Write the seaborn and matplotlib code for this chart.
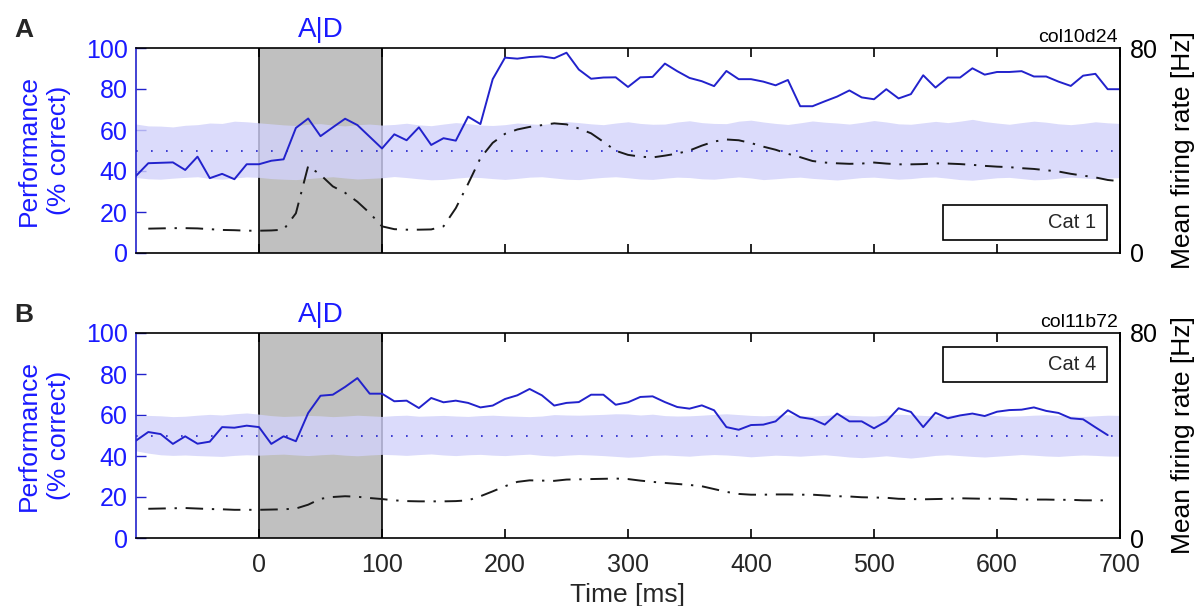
import numpy as np
import pandas as pd
import matplotlib
matplotlib.use("Agg")
import matplotlib.pyplot as plt
from matplotlib.patches import Rectangle
import matplotlib.transforms as mtransforms
import seaborn as sns

# ---------------- data ----------------
time_ms = list(range(-100, 701, 10))  # 81 bins

perf_top = [37.6, 43.8, 44.0, 44.2, 40.5, 47.0, 36.5, 38.6, 36.0, 43.3,
            43.3, 45.0, 45.7, 61.0, 65.6, 57.0, 61.3, 65.5, 62.4, 56.7,
            51.0, 57.9, 55.0, 61.3, 52.7, 56.0, 54.8, 66.5, 62.9, 84.8,
            95.3, 94.8, 95.6, 95.9, 95.0, 97.7, 89.5, 85.0, 85.6, 85.7,
            81.0, 85.7, 85.9, 92.4, 88.7, 85.4, 83.8, 81.4, 88.8, 84.8,
            84.8, 83.6, 81.8, 84.4, 71.6, 71.6, 74.0, 76.3, 79.3, 75.9,
            75.0, 79.9, 75.4, 77.5, 86.7, 80.7, 85.6, 85.6, 90.1, 87.0,
            88.3, 88.3, 88.7, 86.1, 86.1, 83.6, 81.5, 86.5, 87.4, 79.9,
            79.9]
rate_top = [np.nan, 9.5, 9.6, 9.7, 9.7, 9.6, 9.3, 9.0, 8.9, 8.7,
            8.7, 8.8, 9.1, 15.5, 34.0, 30.5, 26.0, 23.5, 20.0, 15.6,
            10.4, 9.3, 9.1, 9.1, 9.2, 10.4, 17.5, 27.0, 37.0, 43.0,
            46.5, 48.2, 49.2, 49.9, 50.6, 50.2, 48.6, 46.7, 43.4, 39.9,
            38.3, 37.6, 37.3, 38.0, 38.8, 40.0, 41.9, 43.5, 44.3, 44.0,
            42.9, 41.5, 40.3, 38.7, 37.4, 35.9, 35.3, 35.0, 34.8, 34.9,
            35.3, 34.9, 34.6, 34.6, 34.7, 35.0, 34.9, 34.7, 34.4, 34.0,
            33.7, 33.5, 33.1, 32.8, 32.3, 31.8, 30.9, 30.2, 29.5, 28.5,
            28.0]
band_hi_top = [62.9, 62.0, 61.9, 61.5, 62.3, 62.6, 63.4, 63.2, 64.3, 64.0,
               63.5, 63.0, 62.5, 62.2, 62.8, 63.1, 62.4, 62.0, 62.6, 62.9,
               62.4, 62.7, 63.3, 62.5, 62.1, 62.9, 63.6, 63.1, 62.4, 62.2,
               62.6, 63.4, 63.0, 62.7, 63.3, 64.1, 63.6, 63.0, 62.6, 63.4,
               64.0, 63.2, 62.8, 62.9, 63.9, 64.5, 63.6, 63.2, 63.1, 64.3,
               64.8, 63.9, 63.2, 62.7, 63.5, 64.4, 63.8, 63.4, 62.9, 63.7,
               64.6, 63.9, 63.0, 62.8, 63.5, 64.2, 63.6, 64.3, 65.2, 64.1,
               63.4, 62.8, 63.6, 64.3, 63.8, 63.0, 62.6, 63.2, 64.0, 63.5,
               63.2]
band_lo_top = [36.8, 36.2, 36.0, 36.5, 36.9, 37.2, 36.4, 36.0, 36.6, 37.1,
               36.9, 36.3, 36.0, 35.8, 36.3, 36.8, 37.2, 36.6, 36.1, 36.4,
               36.7, 37.3, 36.8, 36.2, 35.7, 35.9, 36.5, 37.0, 36.8, 36.3,
               35.9, 36.4, 37.0, 37.2, 36.6, 36.0, 35.8, 36.4, 36.9, 37.2,
               36.7, 36.1, 35.9, 36.5, 37.0, 36.8, 36.2, 36.0, 36.6, 37.1,
               36.6, 35.8, 36.2, 36.7, 37.0, 36.4, 36.0, 35.6, 36.2, 36.8,
               37.0, 36.5, 36.0, 36.3, 36.9, 37.1, 36.5, 35.8, 35.5, 36.1,
               36.7, 36.9, 36.3, 35.7, 35.9, 36.5, 37.0, 36.6, 36.2, 36.5,
               36.8]

perf_bot = [47.5, 51.7, 50.7, 45.9, 49.6, 46.0, 47.0, 54.1, 53.8, 54.8,
            54.1, 45.9, 49.6, 47.2, 61.0, 69.4, 69.9, 73.7, 78.0, 70.4,
            70.4, 66.7, 67.0, 63.4, 68.3, 66.2, 67.0, 65.9, 63.7, 64.6,
            67.8, 69.6, 72.7, 69.6, 64.6, 65.9, 66.3, 69.9, 69.9, 65.0,
            66.2, 68.8, 69.1, 66.3, 63.9, 63.1, 64.7, 62.3, 54.1, 52.8,
            55.1, 55.3, 56.9, 62.3, 58.9, 58.0, 55.3, 60.7, 56.9, 56.9,
            53.5, 56.9, 63.3, 61.5, 54.1, 61.1, 58.4, 59.8, 60.7, 59.5,
            61.6, 62.4, 62.6, 63.7, 62.0, 61.0, 58.4, 57.9, 54.0, 50.2,
            np.nan]
rate_bot = [np.nan, 11.4, 11.5, 11.6, 11.7, 11.5, 11.3, 11.2, 11.0, 11.0,
            11.0, 11.1, 11.2, 11.5, 13.0, 15.3, 16.0, 16.3, 16.1, 15.6,
            15.2, 14.7, 14.4, 14.3, 14.3, 14.3, 14.4, 14.7, 16.3, 18.2,
            20.2, 21.9, 22.5, 22.4, 22.3, 22.8, 22.9, 23.0, 23.1, 23.2,
            23.0, 22.4, 21.9, 21.5, 21.1, 20.7, 20.2, 19.1, 18.0, 17.2,
            16.9, 16.9, 17.0, 17.0, 16.9, 16.9, 16.6, 16.3, 16.2, 15.9,
            15.8, 15.7, 15.3, 15.2, 15.1, 15.2, 15.3, 15.5, 15.4, 15.3,
            15.4, 15.3, 15.0, 15.0, 15.0, 14.9, 14.9, 14.7, 14.7, 14.7,
            np.nan]
band_hi_bot = [59.5, 59.8, 59.6, 59.2, 59.4, 59.9, 60.3, 60.0, 60.6, 61.0,
               60.4, 59.7, 59.3, 59.5, 59.8, 59.6, 59.2, 59.5, 59.9, 59.6,
               59.3, 59.7, 59.9, 59.4, 59.6, 59.8, 59.5, 59.3, 59.7, 59.9,
               59.6, 59.4, 59.2, 59.5, 60.2, 60.0, 59.9, 60.1, 60.3, 60.6,
               60.5, 60.0, 60.4, 59.7, 59.5, 59.6, 59.9, 60.3, 60.6, 60.2,
               59.8, 59.6, 59.9, 60.1, 59.7, 59.5, 59.8, 60.2, 59.9, 59.6,
               59.5, 59.9, 60.4, 60.1, 59.8, 59.5, 59.9, 60.2, 60.4, 60.0,
               59.7, 59.4, 59.6, 59.9, 60.1, 59.8, 59.5, 59.3, 59.6, 59.9,
               59.8]
band_lo_bot = [42.5, 41.4, 40.6, 40.3, 40.5, 40.2, 40.0, 39.8, 40.3, 40.6,
               40.4, 40.7, 40.9, 40.5, 40.2, 40.6, 40.9, 40.4, 40.1, 40.5,
               40.8, 40.6, 40.3, 40.7, 41.0, 40.5, 40.2, 40.6, 40.8, 40.4,
               40.2, 40.6, 40.9, 40.3, 40.0, 40.4, 40.7, 40.5, 40.2, 39.8,
               39.4, 39.7, 40.3, 40.5, 40.2, 39.9, 40.4, 40.7, 40.5, 40.1,
               39.6, 40.0, 40.4, 40.2, 39.9, 40.3, 40.6, 40.1, 39.5, 39.2,
               39.6, 40.1, 39.5, 39.0, 39.6, 40.3, 40.6, 40.2, 39.8, 39.5,
               39.9, 40.3, 40.7, 40.4, 40.0, 39.8, 40.2, 40.5, 40.3, 40.0,
               39.9]

panel_letters = ["A", "B"]
cell_ids = ["col10d24", "col11b72"]
cat_labels = ["Cat 1", "Cat 4"]
epoch_label = "A|D"
epoch_window = (0, 100)
chance_level = 50
xticks = [0, 100, 200, 300, 400, 500, 600, 700]
perf_ticks = [0, 20, 40, 60, 80, 100]
rate_ticks = [0, 80]

# ---------------- style ----------------
sns.set_style("white")
plt.rcParams["font.family"] = ["Liberation Sans", "DejaVu Sans"]

BLUE_TXT = "#1a1aff"
BLUE_LINE = "#2222cc"
BAND = "#d2d2fa"
GRAY = "#c0c0c0"
FS_TICK = 18
FS_LAB = 19

fig = plt.figure(figsize=(11.96, 6.06), dpi=100)
W, H = 1196, 606
ax_left, ax_right = 136, 1120
panel_tops = [48, 333]
ax_h = 205

panels = [
    (perf_top, rate_top, band_hi_top, band_lo_top, (0.063, 0.234)),
    (perf_bot, rate_bot, band_hi_bot, band_lo_bot, (0.761, 0.932)),
]

for i, (perf, rate, hi, lo, boxy) in enumerate(panels):
    top = panel_tops[i]
    rect = [ax_left / W, 1 - (top + ax_h) / H, (ax_right - ax_left) / W, ax_h / H]
    ax = fig.add_axes(rect)
    df = pd.DataFrame({"t": time_ms, "perf": perf, "rate": rate, "hi": hi, "lo": lo})

    ax.set_xlim(-100, 700)
    ax.set_ylim(0, 100)
    ax.axvspan(epoch_window[0], epoch_window[1], color=GRAY, zorder=0, lw=0)
    ax.axvline(epoch_window[0], color="black", lw=1.2, zorder=1)
    ax.axvline(epoch_window[1], color="black", lw=1.2, zorder=1)
    ax.fill_between(df["t"], df["lo"], df["hi"], color=BAND, alpha=0.8, lw=0, zorder=2)
    ax.axhline(chance_level, color=BLUE_LINE, lw=1.2, linestyle=(0, (1, 8)), zorder=3)
    sns.lineplot(data=df, x="t", y="perf", ax=ax, color=BLUE_LINE, lw=1.4,
                 estimator=None, sort=False, zorder=4)
    ax.set_xlabel("")
    ax.set_ylabel("Performance\n(% correct)", color=BLUE_TXT, fontsize=FS_LAB, linespacing=1.3)
    ax.yaxis.set_label_coords(-0.066, 0.5)

    ax.set_yticks(perf_ticks)
    ax.tick_params(axis="y", which="both", left=True, right=True, direction="in",
                   length=7, width=1, color=BLUE_LINE, labelcolor=BLUE_TXT,
                   labelsize=FS_TICK, pad=6)
    ax.set_xticks(xticks)
    ax.tick_params(axis="x", which="both", bottom=True, top=True, direction="in",
                   length=6.5, width=1.2, color="black", labelsize=FS_TICK, pad=11)
    if i == 0:
        ax.tick_params(axis="x", labelbottom=False)
    else:
        ax.set_xlabel("Time [ms]", fontsize=FS_LAB, labelpad=4)

    for s in ["top", "bottom", "right"]:
        ax.spines[s].set_color("black")
        ax.spines[s].set_linewidth(1.2)
    ax.spines["left"].set_color(BLUE_LINE)
    ax.spines["left"].set_linewidth(1.2)

    # firing rate on twin axis
    tw = ax.twinx()
    sns.lineplot(data=df, x="t", y="rate", ax=tw, color="#1a1a1a", lw=1.4,
                 estimator=None, sort=False, linestyle=(0, (9, 4.5, 1.2, 4.5)))
    tw.set_ylim(0, 80)
    tw.set_xlim(-100, 700)
    tw.set_yticks(rate_ticks)
    tw.tick_params(axis="y", length=0, labelsize=FS_TICK, pad=7, labelcolor="black")
    tw.set_xlabel("")
    tw.set_ylabel("Mean firing rate [Hz]", fontsize=FS_LAB, color="black")
    tw.yaxis.set_label_coords(1.052, 0.5)
    for s in ["left", "top", "bottom"]:
        tw.spines[s].set_visible(False)
    tw.spines["right"].set_color("black")
    tw.spines["right"].set_linewidth(1.2)

    # annotations
    blend = mtransforms.blended_transform_factory(ax.transData, ax.transAxes)
    ax.text(50, 1.088, epoch_label, transform=blend, ha="center", va="center",
            color=BLUE_TXT, fontsize=20)
    ax.text(0.998, 1.008, cell_ids[i], transform=ax.transAxes, ha="right",
            va="bottom", fontsize=14, color="black")
    ax.text(-0.124, 1.088, panel_letters[i], transform=ax.transAxes, ha="left",
            va="center", fontsize=19, fontweight="bold")
    y0, y1 = boxy
    tw.add_patch(Rectangle((0.820, y0), 0.167, y1 - y0, transform=ax.transAxes,
                           facecolor="white", edgecolor="black", lw=1.2, zorder=6))
    tw.text(0.976, (y0 + y1) / 2, cat_labels[i], transform=ax.transAxes,
            ha="right", va="center", fontsize=14.5, zorder=7)

fig.savefig("out.png", dpi=100)
